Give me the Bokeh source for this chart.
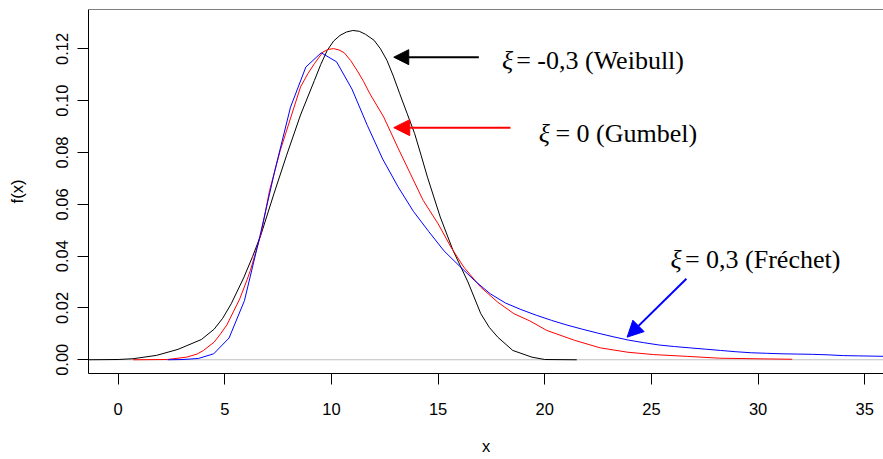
from bokeh.plotting import figure
from bokeh.models import Range1d, FixedTicker, Span, Arrow, NormalHead, Label, NumeralTickFormatter
from bokeh.embed import file_html
from bokeh.resources import INLINE

# ---- data ----
weibull_x = [-1.5, 0.0, 0.7, 1.8, 2.8, 3.9, 4.5, 4.9, 5.3, 5.9, 6.3, 6.7, 7.3, 7.9, 8.55, 9.2, 9.5,
             9.8, 10.1, 10.4, 10.7, 11.0, 11.3, 11.6, 12.0, 12.3, 12.6, 12.9, 13.2, 13.55, 13.9,
             14.2, 14.5, 15.1, 15.7, 16.4, 17.0, 17.4, 17.8, 18.5, 19.4, 20.0, 21.5]
weibull_y = [0.0, 0.0001, 0.0004, 0.0017, 0.0040, 0.0078, 0.0118, 0.0160, 0.0216, 0.0319, 0.0398,
             0.0484, 0.0640, 0.0790, 0.0945, 0.1078, 0.1140, 0.1194, 0.1230, 0.1252, 0.1265,
             0.1271, 0.1268, 0.1256, 0.1233, 0.1200, 0.1156, 0.1095, 0.1027, 0.0950, 0.0873,
             0.0790, 0.0705, 0.0551, 0.0422, 0.0300, 0.0178, 0.0125, 0.0087, 0.0036, 0.0010,
             0.0001, 0.0]

gumbel_x = [0.7, 2.3, 3.2, 3.7, 4.0, 4.5, 4.8, 5.1, 5.4, 5.7, 6.05, 6.2, 6.7, 7.1, 7.6, 8.1, 8.55,
            8.9, 9.2, 9.6, 9.85, 10.1, 10.35, 10.6, 10.9, 11.2, 11.5, 11.8, 12.45, 13.1, 13.7,
            14.3, 15.0, 15.6, 16.2, 17.0, 17.8, 18.55, 19.3, 20.1, 21.4, 22.6, 23.9, 25.1, 26.7,
            28.2, 29.8, 31.6]
gumbel_y = [0.0, 0.0001, 0.0010, 0.0022, 0.0036, 0.0068, 0.0100, 0.0135, 0.0185, 0.0235, 0.0310,
            0.0345, 0.0486, 0.0654, 0.0808, 0.0937, 0.1053, 0.1105, 0.1143, 0.1188, 0.1198,
            0.1201, 0.1196, 0.1185, 0.1155, 0.1117, 0.1075, 0.1027, 0.0937, 0.0821, 0.0718,
            0.0615, 0.0525, 0.0435, 0.0358, 0.0280, 0.0222, 0.0178, 0.0150, 0.0113, 0.0075,
            0.0046, 0.0029, 0.0020, 0.0013, 0.0006, 0.0004, 0.0002]

frechet_x = [2.32, 3.04, 3.76, 4.48, 5.20, 5.92, 6.64, 7.36, 8.08, 8.80, 9.52, 10.24, 10.96, 11.68,
             12.40, 13.12, 13.84, 14.56, 15.28, 16.00, 16.72, 17.44, 18.16, 18.88, 19.60, 20.32,
             21.04, 21.76, 22.48, 23.20, 23.92, 24.64, 25.36, 26.08, 26.80, 27.52, 28.24, 28.96,
             29.68, 30.40, 31.12, 31.84, 32.56, 33.28, 34.00, 34.72, 35.44, 36.16]
frechet_y = [0.0, 0.0001, 0.0005, 0.0023, 0.0084, 0.0228, 0.0475, 0.0735, 0.0975, 0.1130, 0.1185,
             0.1150, 0.1045, 0.0905, 0.0775, 0.0668, 0.0573, 0.0495, 0.0420, 0.0362, 0.0305,
             0.0255, 0.0219, 0.0194, 0.0172, 0.0152, 0.0134, 0.0118, 0.0103, 0.0089, 0.0076,
             0.0066, 0.0057, 0.0051, 0.0046, 0.0041, 0.0036, 0.0031, 0.0027, 0.0025, 0.0023,
             0.0022, 0.0021, 0.0019, 0.0016, 0.0015, 0.0014, 0.0013]

x_ticks = [0, 5, 10, 15, 20, 25, 30, 35]
y_ticks = [0.0, 0.02, 0.04, 0.06, 0.08, 0.10, 0.12]

label_weibull = "= -0,3 (Weibull)"
label_gumbel = "= 0 (Gumbel)"
label_frechet = "= 0,3 (Fréchet)"
xi = "ξ"

# ---- figure ----
X0, X1 = -1.39, 35.88
Y0, Y1 = -0.0053, 0.1352

p = figure(width=883, height=459, output_backend="svg", toolbar_location=None,
           x_range=Range1d(X0, X1), y_range=Range1d(Y0, Y1),
           min_border_left=88, min_border_right=0, min_border_top=9, min_border_bottom=86,
           background_fill_color="white", border_fill_color="white")
p.outline_line_color = None
p.xgrid.visible = False
p.ygrid.visible = False

sans = "Liberation Sans"
serif = "Liberation Serif"

for ax in (p.xaxis[0], p.yaxis[0]):
    ax.axis_line_color = "black"
    ax.axis_line_width = 1
    ax.major_tick_line_color = "black"
    ax.major_tick_out = 11
    ax.major_tick_in = 0
    ax.minor_tick_line_color = None
    ax.major_label_text_font = sans
    ax.major_label_text_font_size = "16.5px"
    ax.major_label_text_color = "black"
    ax.axis_label_text_font = sans
    ax.axis_label_text_font_size = "16.5px"
    ax.axis_label_text_font_style = "normal"
    ax.axis_label_text_color = "black"

p.xaxis.ticker = FixedTicker(ticks=x_ticks)
p.xaxis.major_label_standoff = 18
p.xaxis.axis_label = "x"
p.xaxis.axis_label_standoff = 19
p.yaxis.ticker = FixedTicker(ticks=y_ticks)
p.yaxis.formatter = NumeralTickFormatter(format="0.00")
p.yaxis.major_label_orientation = "parallel"
p.yaxis.major_label_standoff = 9
p.yaxis.axis_label = "f(x)"
p.yaxis.axis_label_standoff = 28

# zero reference line and top border of the box
p.add_layout(Span(location=0, dimension="width", line_color="#bebebe", line_width=1, level="underlay"))
p.add_layout(Span(location=Y1, dimension="width", line_color="black", line_width=1.2))

# curves
p.line(weibull_x, weibull_y, line_color="black", line_width=1)
p.line(gumbel_x, gumbel_y, line_color="red", line_width=1)
p.line(frechet_x, frechet_y, line_color="blue", line_width=1)

# annotations
def annot(x_xi, x_txt, y, txt):
    p.add_layout(Label(x=x_xi, y=y, text=xi, text_font=serif, text_font_style="italic",
                       text_font_size="26px", text_color="black", text_baseline="alphabetic"))
    p.add_layout(Label(x=x_txt, y=y, text=txt, text_font=serif, text_font_size="26px",
                       text_color="black", text_baseline="alphabetic"))

annot(18.00, 18.66, 0.1156, label_weibull)
annot(19.72, 20.50, 0.0872, label_gumbel)
annot(25.89, 26.57, 0.0386, label_frechet)

def arrow(xs, ys, xe, ye, color, size):
    p.add_layout(Arrow(end=NormalHead(size=size, fill_color=color, line_color=color),
                       x_start=xs, y_start=ys, x_end=xe, y_end=ye,
                       line_color=color, line_width=2))

arrow(16.91, 0.1168, 12.92, 0.1168, "black", 15)
arrow(18.39, 0.0896, 12.92, 0.0896, "red", 16)
arrow(26.64, 0.0313, 23.86, 0.00873, "blue", 16)

open("out.html", "w").write(file_html(p, INLINE))
